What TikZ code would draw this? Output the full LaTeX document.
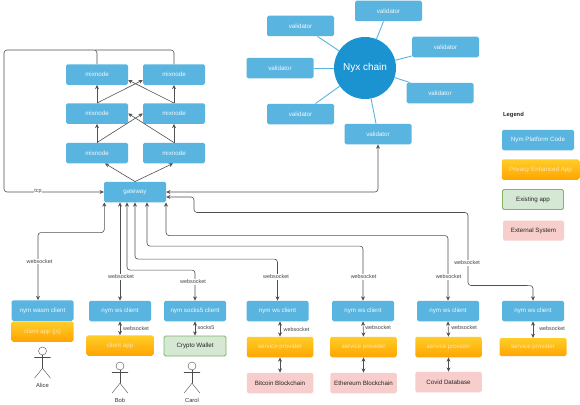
\documentclass[tikz,border=0pt]{standalone}
\usepackage{fontspec}
\setmainfont{Liberation Sans}
\usetikzlibrary{arrows.meta,calc}
\definecolor{nymblue}{HTML}{5AB4E0}
\definecolor{nyxblue}{HTML}{1B93D1}
\definecolor{linegrey}{HTML}{505050}
\definecolor{ortop}{HTML}{FFCD28}
\definecolor{orbot}{HTML}{FFA500}
\definecolor{grfill}{HTML}{D5E8D4}
\definecolor{grline}{HTML}{82B366}
\definecolor{pkfill}{HTML}{F8CECC}
\tikzset{
  boxbase/.style={rectangle,rounded corners=1.6pt,inner sep=0pt,font=\fontsize{6.2}{7}\selectfont,align=center},
  blue/.style={boxbase,fill=nymblue,text=white!92!nymblue},
  orange/.style={boxbase,top color=ortop,bottom color=orbot,text=white!70!orbot},
  greenb/.style={boxbase,fill=grfill,draw=grline,line width=0.9pt,text=black!85},
  pinkb/.style={boxbase,fill=pkfill,text=black!85},
  conn/.style={draw=linegrey,line width=0.6pt,rounded corners=3pt},
  one/.style={conn,-{Stealth[length=4.2pt,width=4pt]}},
  both/.style={conn,{Stealth[length=4.2pt,width=4pt]}-{Stealth[length=4.2pt,width=4pt]}},
  spoke/.style={draw=nymblue,line width=0.9pt},
  lbl/.style={fill=white,inner sep=0.6pt,text=black!75,font=\fontsize{5.4}{6}\selectfont},
  actor/.style={draw=black!70,line width=0.4pt,line cap=round},
  actorlbl/.style={inner sep=0pt,text=black!80,font=\fontsize{5.8}{6.5}\selectfont},
}
\begin{document}
\begin{tikzpicture}[x=1pt,y=-1pt]
\useasboundingbox[fill=white] (0,0) rectangle (580,404);
% mixnodes
\foreach \n/\cx/\cy in {m1l/97/74.5,m1r/174/74.5,m2l/97/113.5,m2r/174/113.5,m3l/97/153,m3r/174/153}
  \node[blue,minimum width=62pt,minimum height=20.5pt] (\n) at (\cx,\cy) {mixnode};
\node[blue,minimum width=62pt,minimum height=20.5pt] (gw) at (135,192) {gateway};
% validators
\foreach \n/\cx/\cy in {v1/388.5/11,v2/300.5/26,v3/445.5/47,v4/280/68,v5/440/93,v6/300.5/114,v7/378/134}
  \node[blue,minimum width=67pt,minimum height=20.5pt] (\n) at (\cx,\cy) {validator};
\node[circle,fill=nyxblue,minimum size=62pt,inner sep=0pt,text=white,font=\fontsize{10}{12}\selectfont] (nyx) at (365,68) {Nyx chain};
% clients
\node[blue,minimum width=62pt,minimum height=20.5pt] (wasm) at (42.5,310.5) {nym wasm client};
\node[orange,minimum width=62pt,minimum height=20.5pt] (app1) at (42.5,331.5) {client app (js)};
\node[blue,minimum width=62pt,minimum height=20.5pt] (c2) at (120,311) {nym ws client};
\node[orange,minimum width=67pt,minimum height=20.5pt] (app2) at (120,345.5) {client app};
\node[blue,minimum width=62pt,minimum height=20.5pt] (c3) at (195,311) {nym socks5 client};
\node[greenb,minimum width=62pt,minimum height=20pt] (wal) at (195,346) {Crypto Wallet};
\node[blue,minimum width=62pt,minimum height=20.5pt] (c4) at (277.5,311) {nym ws client};
\node[blue,minimum width=62pt,minimum height=20.5pt] (c5) at (363,311) {nym ws client};
\node[blue,minimum width=62pt,minimum height=20.5pt] (c6) at (448,311) {nym ws client};
\node[blue,minimum width=62pt,minimum height=20.5pt] (c7) at (533,311) {nym ws client};
\node[orange,minimum width=66.5pt,minimum height=20.5pt] (s4) at (280,347) {service provider};
\node[orange,minimum width=66.5pt,minimum height=20.5pt] (s5) at (363.5,347) {service provider};
\node[orange,minimum width=66.5pt,minimum height=20.5pt] (s6) at (448.5,347) {service provider};
\node[orange,minimum width=67pt,minimum height=18pt] (s7) at (533,347) {service provider};
\node[pinkb,minimum width=66.5pt,minimum height=20.5pt] (e4) at (280,383) {Bitcoin Blockchain};
\node[pinkb,minimum width=66.5pt,minimum height=20.5pt] (e5) at (363.5,383) {Ethereum Blockchain};
\node[pinkb,minimum width=66.5pt,minimum height=20.5pt] (e6) at (448.5,382) {Covid Database};
% legend
\node[inner sep=0pt,font=\bfseries\fontsize{5.8}{6.5}\selectfont,text=black!85] (leg) at (513.5,115.5) {Legend};
\node[blue,minimum width=72pt,minimum height=20.5pt] (l1) at (538,140) {Nym Platform Code};
\node[orange,minimum width=77.5pt,minimum height=20.5pt] (l2) at (540.5,169.5) {Privacy Enhanced App};
\node[greenb,minimum width=61pt,minimum height=20pt] (l3) at (533,199.5) {Existing app};
\node[pinkb,minimum width=61pt,minimum height=20pt] (l4) at (533.5,230.5) {External System};
% spokes
\draw[spoke] (nyx) -- ([xshift=-5pt]v1.south);
\draw[spoke] (nyx) -- ([xshift=17pt]v2.south);
\draw[spoke] (nyx) -- ([yshift=-9pt]v3.west);
\draw[spoke] (nyx) -- (v4.east);
\draw[spoke] (nyx) -- ([xshift=-30pt]v5.north);
\draw[spoke] (nyx) -- ([xshift=15pt]v6.north);
\draw[spoke] (nyx) -- ([xshift=-2pt]v7.north);
% mix arrows
\draw[one] (m1l.north) -- (97,50) -- (4,50) -- (4,192) -- (gw.west);
\draw[conn] (m1r.north) -- (174,50) -- (95,50);
\draw[one] (m2l.north) -- (m1l.south);
\draw[one] (m2r.north) -- (m1r.south);
\draw[one] (m2l.north) -- ([yshift=-5.5pt]m1r.west);
\draw[one] (m2r.north) -- ([yshift=-5.5pt]m1l.east);
\draw[one] (m3l.north) -- (m2l.south);
\draw[one] (m3r.north) -- (m2r.south);
\draw[one] (m3l.north) -- (m2r.west);
\draw[one] (m3r.north) -- (m2l.east);
\draw[one] (gw.north) -- ([xshift=8pt]m3l.south);
\draw[one] (gw.north) -- ([xshift=-1pt]m3r.south);
% gateway to validator
\draw[both] (gw.east) -- (378,192) -- (v7.south);
% gateway to clients
\draw[both] ([xshift=-4.5pt]wasm.north) -- ++(0,-67.5) -| ([xshift=0.5pt]gw.south west);
\draw[both] (c2.north) -- ([xshift=-15pt]gw.south);
\draw[both] (c3.north) -- ++(0,-30.5) -| ([xshift=-8pt]gw.south);
\draw[both] (c4.north) -- ++(0,-41.5) -| (gw.south);
\draw[both] (c5.north) -- ++(0,-54.5) -| ([xshift=12pt]gw.south);
\draw[both] (c6.north) -- ++(0,-65) -| ([xshift=31pt]gw.south);
\draw[both] (c7.north) -- ++(0,-15) -- (468,285.5) -- (468,212.5) -- (194,212.5) -- (194,197) -- ([yshift=-5pt]gw.east);
% client to app
\draw[both] (c2.south) -- (app2.north);
\draw[both] (c3.south) -- (wal.north);
\draw[both] ([xshift=2.5pt]c4.south) -- (s4.north);
\draw[both] (c5.south) -- (s5.north);
\draw[both] (c6.south) -- (s6.north);
\draw[both] (c7.south) -- (s7.north);
\draw[both] (s4.south) -- (e4.north);
\draw[both] (s5.south) -- (e5.north);
\draw[both] (s6.south) -- (e6.north);
% labels
\node[lbl] (t0) at (38,191) {tcp};
\node[lbl] (t1) at (39.5,261.5) {websocket};
\node[lbl] (t2) at (121,277) {websocket};
\node[lbl] (t3) at (193,282) {websocket};
\node[lbl] (t4) at (276,277) {websocket};
\node[lbl] (t5) at (363.5,277) {websocket};
\node[lbl] (t6) at (448.5,277) {websocket};
\node[lbl] (t7) at (467,263) {websocket};
\node[lbl] (t8) at (136,329) {websocket};
\node[lbl] (t9) at (206,328) {socks5};
\node[lbl] (t10) at (296.5,329.5) {websocket};
\node[lbl] (t11) at (378,328) {websocket};
\node[lbl] (t12) at (464,328) {websocket};
\node[lbl] (t13) at (552,329) {websocket};
% actors
\foreach \n/\ax/\ay/\name in {a/42.5/351/Alice,b/120/366/Bob,c/192/366/Carol}{
  \node[circle,draw=black!70,line width=0.4pt,fill=white,minimum size=8pt,inner sep=0pt] (h\n) at (\ax,\ay) {};
  \draw[actor] (h\n.south) -- ++(0,13);
  \draw[actor] ($(h\n.south)+(-8,2)$) -- ($(h\n.south)+(8,2)$);
  \draw[actor] ($(h\n.south)+(-8,23)$) -- ($(h\n.south)+(0,13)$) -- ($(h\n.south)+(8,23)$);
  \node[actorlbl] (n\n) at (\ax,\ay+34) {\name};
}
\end{tikzpicture}
\end{document}
